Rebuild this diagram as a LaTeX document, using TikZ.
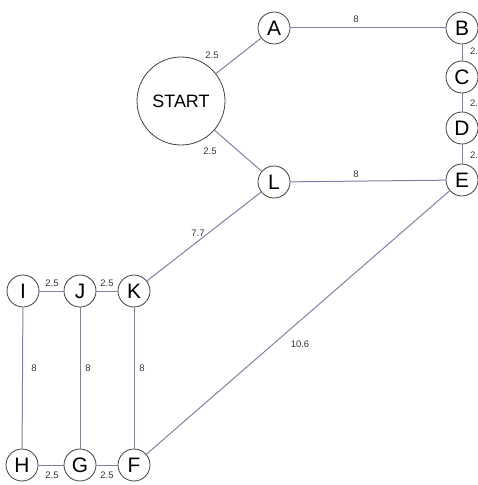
\documentclass[tikz,border=0pt]{standalone}
\usepackage{fontspec}
\setmainfont{Liberation Sans}
\begin{document}
\begin{tikzpicture}[x=1bp,y=-1bp,
  vtx/.style={circle,draw=black!75,line width=0.8bp,fill=white,minimum size=32bp,inner sep=0pt,font=\fontsize{21}{21}\selectfont},
  big/.style={circle,draw=black!75,line width=0.8bp,fill=white,minimum size=88bp,inner sep=0pt,font=\fontsize{18}{18}\selectfont},
  edge/.style={draw=blue!30!black!50,line width=1bp},
  lbl/.style={font=\fontsize{9.5}{9.5}\selectfont,text=black!80,inner sep=0pt}]
\useasboundingbox (0,0) rectangle (478,485);
\node[big] (S) at (181,101) {START};
\node[vtx] (A) at (274,28) {A};
\node[vtx] (B) at (462,28) {B};
\node[vtx] (C) at (462,77) {C};
\node[vtx] (D) at (462,128) {D};
\node[vtx] (E) at (462,180) {E};
\node[vtx] (L) at (274,182) {L};
\node[vtx] (K) at (134,291) {K};
\node[vtx] (J) at (80,291) {J};
\node[vtx] (I) at (23,291) {I};
\node[vtx] (H) at (22,465) {H};
\node[vtx] (G) at (80,465) {G};
\node[vtx] (F) at (134,465) {F};
\draw[edge] (S) -- (A);
\draw[edge] (S) -- (L);
\draw[edge] (A) -- (B);
\draw[edge] (B) -- (C);
\draw[edge] (C) -- (D);
\draw[edge] (D) -- (E);
\draw[edge] (L) -- (E);
\draw[edge] (L) -- (K);
\draw[edge] (E) -- (F);
\draw[edge] (I) -- (J);
\draw[edge] (J) -- (K);
\draw[edge] (H) -- (G);
\draw[edge] (G) -- (F);
\draw[edge] (I) -- (H);
\draw[edge] (J) -- (G);
\draw[edge] (K) -- (F);
\node[lbl] (l1) at (212,55) {2.5};
\node[lbl] (l2) at (210,151) {2.5};
\node[lbl] (l3) at (356,19) {8};
\node[lbl] (l4) at (356,174) {8};
\node[lbl,anchor=west] (l5) at (470,51) {2.5};
\node[lbl,anchor=west] (l6) at (470,103) {2.5};
\node[lbl,anchor=west] (l7) at (470,155) {2.5};
\node[lbl] (l8) at (198,233) {7.7};
\node[lbl] (l9) at (300,344) {10.6};
\node[lbl] (l10) at (52,283) {2.5};
\node[lbl] (l11) at (107,283) {2.5};
\node[lbl] (l12) at (52,475) {2.5};
\node[lbl] (l13) at (107,475) {2.5};
\node[lbl] (l14) at (34,368) {8};
\node[lbl] (l15) at (88,368) {8};
\node[lbl] (l16) at (142,368) {8};
\end{tikzpicture}
\end{document}
